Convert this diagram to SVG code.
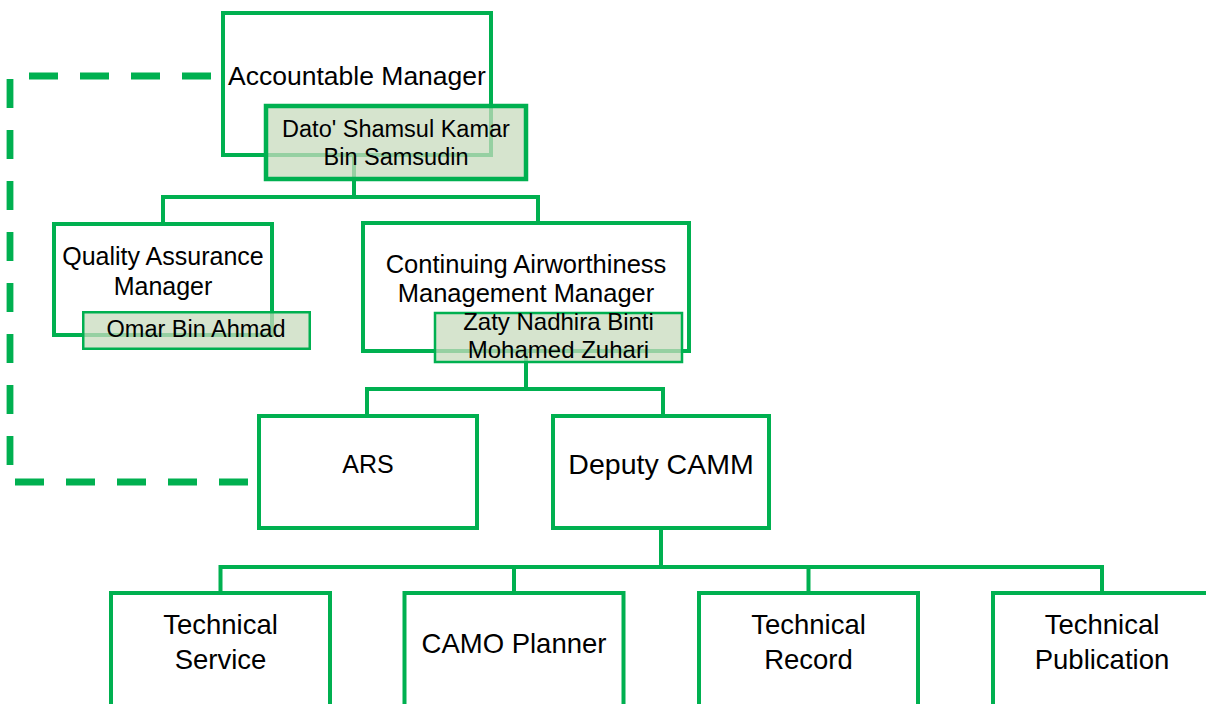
<svg xmlns="http://www.w3.org/2000/svg" width="1206" height="704" viewBox="0 0 1206 704">
<style>
.box{fill:#fff;stroke:#00b050;stroke-width:4}
.name{fill:rgb(200,219,190);fill-opacity:0.75;stroke:#00b050}
.conn{fill:none;stroke:#00b050;stroke-width:4}
.dash{fill:none;stroke:#00b050;stroke-width:6.8;stroke-dasharray:29 22}
text{font-family:"Liberation Sans",Arial,sans-serif;fill:#000;text-anchor:middle}
</style>
<rect width="1206" height="704" fill="#fff"/>
<g id="node-accountable">
<rect class="box" x="223" y="13" width="268" height="142"/>
<text x="357" y="85" font-size="26.5">Accountable Manager</text>
</g>
<g id="node-qa">
<rect class="box" x="54" y="224" width="218" height="111"/>
<text x="163" y="265" font-size="25">Quality Assurance</text>
<text x="163" y="295" font-size="25">Manager</text>
</g>
<g id="node-camm">
<rect class="box" x="363" y="223" width="326" height="128"/>
<text x="526" y="273" font-size="25.5">Continuing Airworthiness</text>
<text x="526" y="302" font-size="25.5">Management Manager</text>
</g>
<g id="node-ars">
<rect class="box" x="259" y="416" width="218" height="112"/>
<text x="368" y="473" font-size="25">ARS</text>
</g>
<g id="node-deputy">
<rect class="box" x="553" y="416" width="216" height="112"/>
<text x="661" y="474" font-size="28.5">Deputy CAMM</text>
</g>
<g id="node-tech-service">
<rect class="box" x="111" y="593" width="219" height="200"/>
<text x="220.5" y="634" font-size="27.5">Technical</text>
<text x="220.5" y="669" font-size="27.5">Service</text>
</g>
<g id="node-camo-planner">
<rect class="box" x="404.5" y="593" width="219" height="200"/>
<text x="514" y="653" font-size="27.5">CAMO Planner</text>
</g>
<g id="node-tech-record">
<rect class="box" x="699" y="593" width="219" height="200"/>
<text x="808.5" y="634" font-size="27.5">Technical</text>
<text x="808.5" y="669" font-size="27.5">Record</text>
</g>
<g id="node-tech-publication">
<rect class="box" x="993" y="593" width="219" height="200"/>
<text x="1102" y="634" font-size="27.5">Technical</text>
<text x="1102" y="669" font-size="27.5">Publication</text>
</g>
<g id="connectors">
<path class="dash" d="M211,76 H10 V482 H257"/>
<path class="conn" d="M354,155 V197"/>
<path class="conn" d="M163,224 V197 H538 V223"/>
<path class="conn" d="M526,351 V389"/>
<path class="conn" d="M367,416 V389 H663 V416"/>
<path class="conn" d="M661,528 V567"/>
<path class="conn" d="M220.5,593 V567 H1102 V593"/>
<path class="conn" d="M514,567 V593"/>
<path class="conn" d="M808.5,567 V593"/>
</g>
<g id="name-accountable">
<rect class="name" x="266" y="106" width="260" height="73" stroke-width="4.5"/>
<text x="396" y="137" font-size="23.5">Dato' Shamsul Kamar</text>
<text x="396" y="165" font-size="23.5">Bin Samsudin</text>
</g>
<g id="name-qa">
<rect class="name" x="83.25" y="312.25" width="226.5" height="36.5" stroke-width="2.5"/>
<text x="196" y="337" font-size="23.5">Omar Bin Ahmad</text>
</g>
<g id="name-camm">
<rect class="name" x="435" y="313" width="247" height="49" stroke-width="2.5"/>
<text x="558.5" y="330" font-size="24">Zaty Nadhira Binti</text>
<text x="558.5" y="358" font-size="24">Mohamed Zuhari</text>
</g>
</svg>
